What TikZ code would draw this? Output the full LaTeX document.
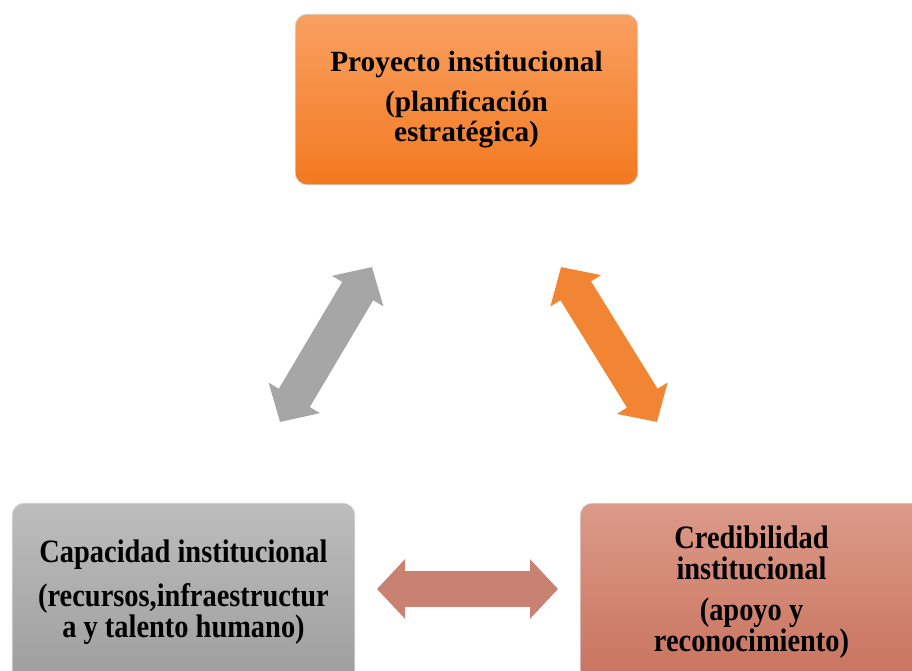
\documentclass[tikz,border=0pt]{standalone}
\usepackage{fontspec}
\setmainfont{Liberation Serif}
\newfontfamily\tallserif[FakeStretch=0.87]{Liberation Serif}
\usetikzlibrary{arrows.meta}

\definecolor{naranjaA}{HTML}{F9A062}
\definecolor{naranjaB}{HTML}{F3791F}
\definecolor{grisA}{HTML}{BDBDBD}
\definecolor{grisB}{HTML}{9E9E9E}
\definecolor{salmonA}{HTML}{DC9A88}
\definecolor{salmonB}{HTML}{C8735F}
\definecolor{flechagris}{HTML}{A6A6A6}
\definecolor{flechanaranja}{HTML}{F28533}
\definecolor{flechasalmon}{HTML}{C98272}

\newcommand{\apretado}{\lineskiplimit -30pt\relax}

\tikzset{
  box/.style={rounded corners=9pt, minimum width=257pt, minimum height=128pt,
    align=center, draw=black!15, line width=0.6pt, text=black},
  tallbox/.style={box, minimum height=134pt},
  toptext/.style={font=\bfseries\fontsize{22}{22.5}\selectfont},
  bottomtext/.style={font={\tallserif\bfseries\fontsize{24.5}{23.2}\selectfont\apretado}},
  blockarrow/.style={line width=27pt,
    {Triangle[length=21pt,width=43.5pt]}-{Triangle[length=21pt,width=43.5pt]}},
}

\begin{document}
\begin{tikzpicture}[x=0.75pt,y=-0.75pt]
    \useasboundingbox (0,0) rectangle (912,670);
    \clip (0,0) rectangle (912,670);

    \node[box, toptext, top color=naranjaA, bottom color=naranjaB] (proyecto) at (466.5,99.5)
        {Proyecto institucional\\[8pt](planficación\\estratégica)};
    \node[tallbox, bottomtext, top color=grisA, bottom color=grisB] (capacidad) at (183.5,592.5)
        {Capacidad institucional\\[10pt](recursos,infraestructur\\a y talento humano)};
    \node[tallbox, bottomtext, top color=salmonA, bottom color=salmonB] (credibilidad) at (751.5,592.5)
        {Credibilidad\\institucional\\[7.5pt](apoyo y\\reconocimiento)};

    \coordinate (grisabajo) at (280,422);
    \coordinate (grisarriba) at (372,267);
    \coordinate (naranjaarriba) at (561,267);
    \coordinate (naranjaabajo) at (657,422);
    \coordinate (salmonizq) at (377,589);
    \coordinate (salmonder) at (558,589);

    \draw[blockarrow, flechagris] (grisabajo) -- (grisarriba);
    \draw[blockarrow, flechanaranja] (naranjaarriba) -- (naranjaabajo);
    \draw[blockarrow, flechasalmon] (salmonizq) -- (salmonder);
\end{tikzpicture}
\end{document}
